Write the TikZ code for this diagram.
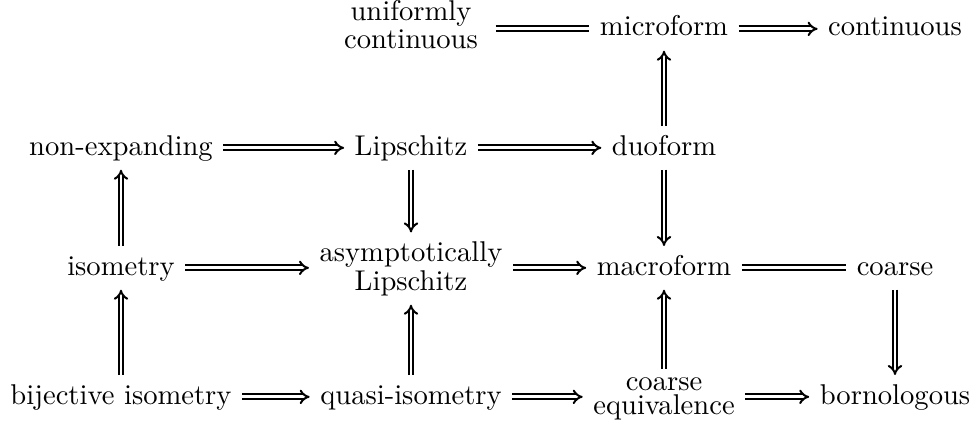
\documentclass[tikz,border=0pt]{standalone}
\usetikzlibrary{arrows.meta}
\newcommand{\twolines}[2]{\vbox{\baselineskip=-1000pt\lineskiplimit=0pt\lineskip=1pt\halign{\hfil##\hfil\cr#1\cr#2\cr}}}
\begin{document}
\begin{tikzpicture}[x=0.3497pt,y=-0.3497pt,
  cell/.style={inner xsep=3.5pt, inner ysep=3pt, anchor=base},
  one/.style={cell, text height=6.94pt, text depth=1.94pt},
  imp/.style={line width=0.7pt, double, double distance=0.95pt, -Implies},
  eqline/.style={line width=0.7pt, double, double distance=0.95pt, -}]
\useasboundingbox (0,0) rectangle (977,423);
% row 0
\node[cell] (uc) at (411,48.3) {\twolines{uniformly}{continuous}};
\node[one] (micro) at (664,36) {microform};
\node[one] (cont) at (895,36) {continuous};
% row 1
\node[one] (nonexp) at (121,155) {non-expanding};
\node[one] (lip) at (411,155) {Lipschitz};
\node[one] (duo) at (664,155) {duoform};
% row 2
\node[one] (iso) at (121,275) {isometry};
\node[cell] (asl) at (411,290) {\twolines{asymptotically}{Lipschitz}};
\node[one] (macro) at (664,275) {macroform};
\node[one] (coarse) at (895,275) {coarse};
% row 3
\node[one] (biso) at (121,404) {bijective isometry};
\node[one] (qiso) at (411,404) {quasi-isometry};
\node[cell] (ceq) at (664,414) {\twolines{coarse}{equivalence}};
\node[one] (born) at (895,404) {bornologous};
% connectors
\draw[eqline] ([xshift=2.5pt]uc.east |- micro.west) -- (micro.west);
\draw[imp] (micro) -- (cont);
\draw[imp] (duo) -- (micro);
\draw[imp] (nonexp) -- (lip);
\draw[imp] (lip) -- (duo);
\draw[imp] (iso) -- (nonexp);
\draw[imp] (lip) -- (asl);
\draw[imp] (duo) -- (macro);
\draw[imp] (iso.east) -- (asl.west |- iso.east);
\draw[imp] (asl.east |- macro.west) -- (macro.west);
\draw[eqline] (macro) -- (coarse);
\draw[imp] (coarse) -- (born);
\draw[imp] (biso) -- (iso);
\draw[imp] (biso) -- (qiso);
\draw[imp] (qiso) -- (asl);
\draw[imp] (qiso.east) -- (ceq.west |- qiso.east);
\draw[imp] (ceq) -- (macro);
\draw[imp] (ceq.east |- born.west) -- (born.west);
\end{tikzpicture}
\end{document}
